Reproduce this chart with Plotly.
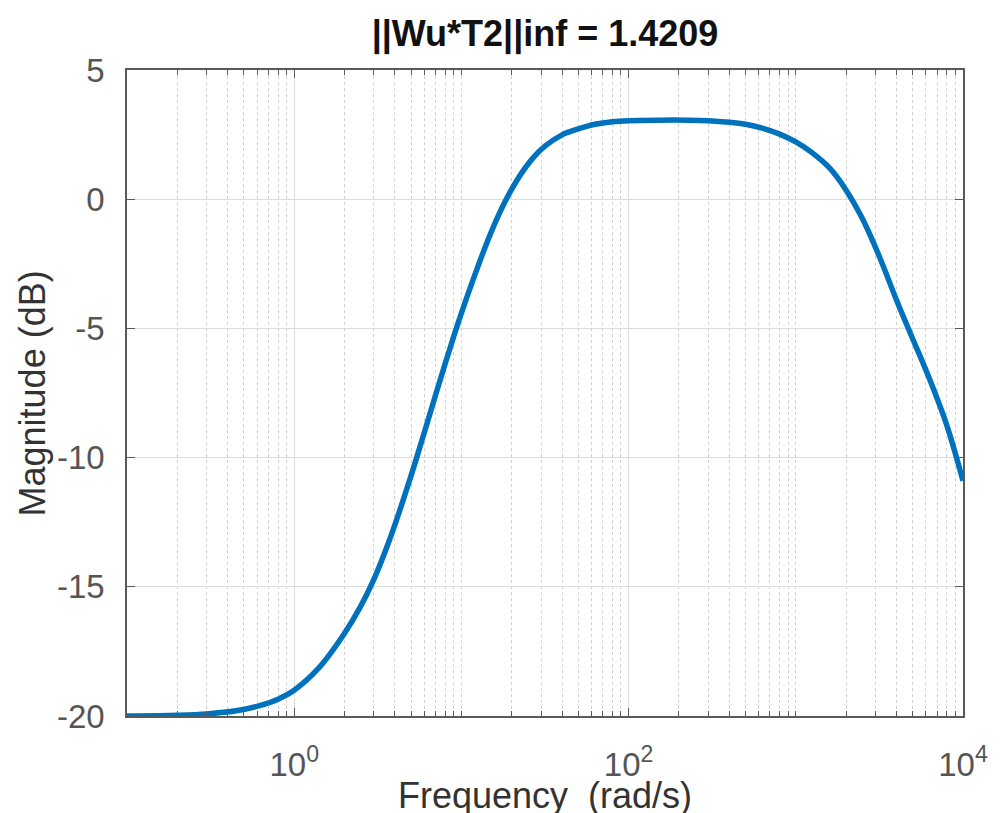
import plotly.graph_objects as go

# Data (frequency in rad/s, magnitude in dB)
freq = [0.1, 0.2, 0.3, 0.45, 0.62, 0.8, 1, 1.4, 2, 2.5, 3, 3.5, 4, 5, 6, 7, 8, 9,
        10, 12, 14, 16, 18, 20, 23, 27, 32, 40, 50, 63, 80, 100, 150, 224, 300,
        400, 500, 630, 800, 1000, 1250, 1600, 2000, 2500, 3150, 4000, 5000, 6300,
        8000, 10000]
mag_db = [-20.0, -19.97, -19.92, -19.8, -19.6, -19.35, -19.0, -18.15, -16.8, -15.75,
          -14.7, -13.63, -12.6, -10.7, -9.03, -7.59, -6.36, -5.31, -4.41, -2.95,
          -1.79, -0.88, -0.17, 0.39, 1.03, 1.62, 2.08, 2.49, 2.72, 2.9, 3.0, 3.04,
          3.06, 3.06, 3.04, 2.98, 2.9, 2.75, 2.52, 2.22, 1.8, 1.19, 0.35, -0.75,
          -2.2, -3.9, -5.4, -6.95, -8.75, -10.9]

title_text = "||Wu*T2||inf = 1.4209"
x_label = "Frequency  (rad/s)"
y_label = "Magnitude (dB)"

x_major_vals = [1, 100, 10000]
x_major_text = ["10<sup>0</sup>", "10<sup>2</sup>", "10<sup>4</sup>"]
x_minor_vals = [k * 10.0 ** d for d in range(-1, 4) for k in range(1, 10)
                if not (k == 1 and d in (0, 2))]
y_ticks = [-20, -15, -10, -5, 0, 5]
y_tick_text = ["-20", "-15", "-10", "-5", "0", "5"]

FONT = "Liberation Sans, Arial, sans-serif"
AXIS_COL = "#5a5a5a"
TICK_COL = "#555555"

fig = go.Figure()
fig.add_trace(go.Scatter(
    x=freq, y=mag_db, mode="lines",
    line=dict(color="#0072BD", width=5.5, shape="spline", smoothing=1.0),
    showlegend=False, hoverinfo="skip",
))

fig.update_layout(
    width=1000, height=813,
    margin=dict(l=127, r=33, t=70, b=97),
    paper_bgcolor="white", plot_bgcolor="white",
    font=dict(family=FONT, color=TICK_COL),
    title=dict(text=title_text, x=0.5, xref="paper", xanchor="center",
               y=1 - 33 / 813, yref="container", yanchor="middle",
               font=dict(family=FONT, size=36, color="#111111", weight="bold")),
    showlegend=False,
)

fig.update_xaxes(
    type="log", range=[-1, 4],
    tickmode="array", tickvals=x_major_vals, ticktext=x_major_text,
    ticks="inside", ticklen=8, tickwidth=1.2, tickcolor=AXIS_COL,
    tickfont=dict(family=FONT, size=33, color=TICK_COL),
    showline=True, linecolor=AXIS_COL, linewidth=1.5, mirror="ticks",
    showgrid=True, gridcolor="#dcdcdc", gridwidth=1,
    zeroline=False,
    minor=dict(tickmode="array", tickvals=x_minor_vals, ticks="inside", ticklen=5,
               tickcolor=AXIS_COL, showgrid=True, gridcolor="#cfcfcf",
               griddash="dot", gridwidth=1),
    ticklabelstandoff=19,
)
fig.update_yaxes(
    range=[-20, 5], tickmode="array", tickvals=y_ticks, ticktext=y_tick_text,
    ticks="inside", ticklen=8, tickwidth=1.2, tickcolor=AXIS_COL,
    tickfont=dict(family=FONT, size=33, color=TICK_COL),
    showline=True, linecolor=AXIS_COL, linewidth=1.5, mirror="ticks",
    showgrid=True, gridcolor="#dcdcdc", gridwidth=1,
    zeroline=False,
    ticklabelstandoff=14,
)

fig.add_annotation(text=x_label, xref="paper", yref="paper", x=0.5,
                   y=(716 - 795) / 646, xanchor="center", yanchor="middle",
                   showarrow=False, font=dict(family=FONT, size=36, color="#333333"))
fig.add_annotation(text=y_label, xref="paper", yref="paper", x=(32 - 127) / 840,
                   y=0.5, xanchor="center", yanchor="middle", textangle=-90,
                   showarrow=False, font=dict(family=FONT, size=36, color="#333333"))

fig.write_html("out.html")
